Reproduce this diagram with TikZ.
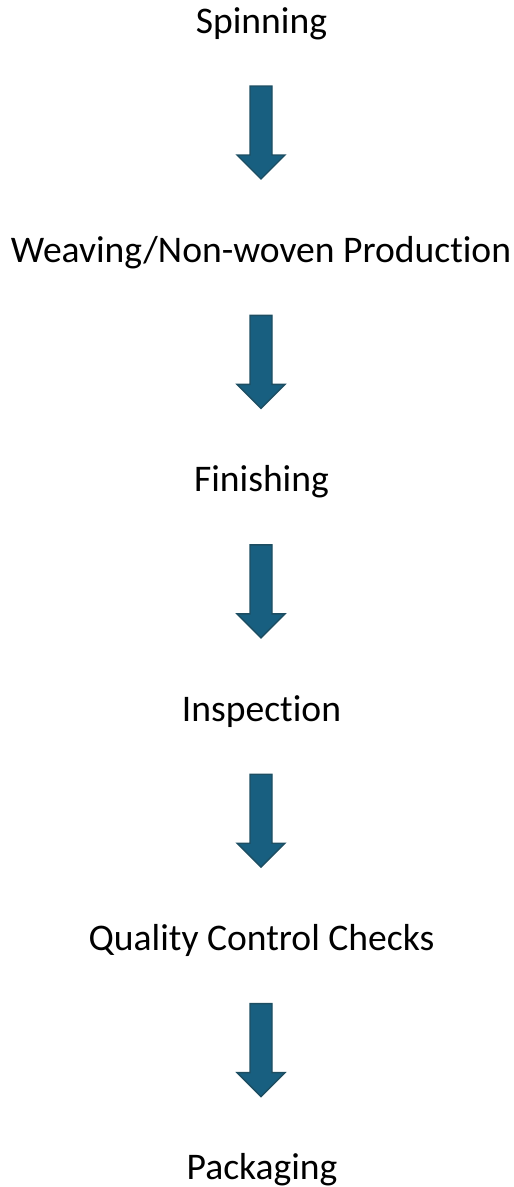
\documentclass[tikz,border=0pt]{standalone}
\usepackage{fontspec}
\setmainfont[Ligatures=NoCommon,RawFeature={-liga;-clig;-dlig}]{Carlito}
\definecolor{arrowfill}{HTML}{185F80}
\definecolor{arrowline}{HTML}{1D4E62}
\begin{document}
\begin{tikzpicture}[x=1pt,y=1pt,
  steplabel/.style={anchor=base, inner sep=0pt, font=\fontsize{37.6}{44}\selectfont, text=black},
  blockarrow/.style={fill=arrowfill, draw=arrowline, line width=1.4pt, line join=miter}]
\useasboundingbox (0,0) rectangle (514,-1187);
\node[steplabel] (s1) at (261.5,-33) {Spinning};
\node[steplabel] (s2) at (261,-262.4) {Weaving/Non-woven Production};
\node[steplabel] (s3) at (261.5,-491.8) {Finishing};
\node[steplabel] (s4) at (261.5,-721.2) {Inspection};
\node[steplabel] (s5) at (261.5,-950.6) {Quality Control Checks};
\node[steplabel] (s6) at (262,-1179) {Packaging};
\foreach \i in {0,...,4}{
  \coordinate (a\i) at (261,{-86-229.4*\i});
  \draw[blockarrow] (a\i) ++(-11,0) -- ++(22,0) -- ++(0,-69) -- ++(13,0) -- ++(-24,-24) -- ++(-24,24) -- ++(13,0) -- cycle;
}
\end{tikzpicture}
\end{document}
